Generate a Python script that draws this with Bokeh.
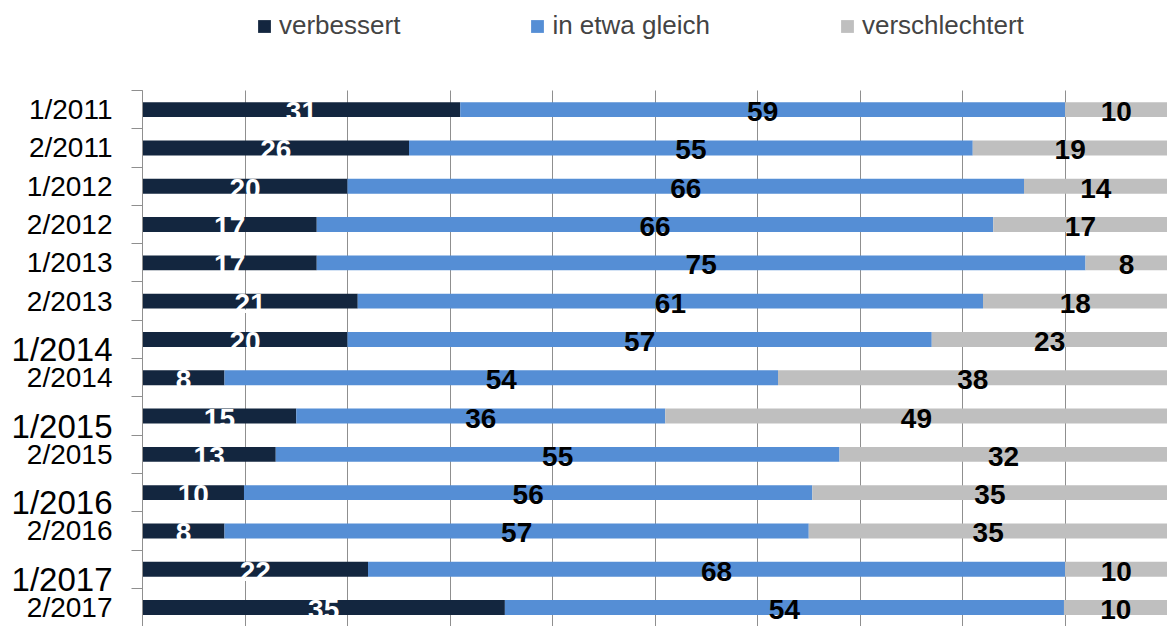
from bokeh.plotting import figure
from bokeh.models import Range1d, FixedTicker, Legend, LegendItem, ColumnDataSource
from bokeh.core.properties import value
from bokeh.embed import file_html
from bokeh.resources import INLINE

categories = ["1/2011", "2/2011", "1/2012", "2/2012", "1/2013", "2/2013", "1/2014",
              "2/2014", "1/2015", "2/2015", "1/2016", "2/2016", "1/2017", "2/2017"]
verbessert = [31, 26, 20, 17, 17, 21, 20, 8, 15, 13, 10, 8, 22, 35]
gleich = [59, 55, 66, 66, 75, 61, 57, 54, 36, 55, 56, 57, 68, 54]
verschlechtert = [10, 19, 14, 17, 8, 18, 23, 38, 49, 32, 35, 35, 10, 10]
series_names = ["verbessert", "in etwa gleich", "verschlechtert"]
big_labels = ["1/2014", "1/2015", "1/2016", "1/2017"]

COLORS = ["#13263f", "#558ed5", "#bfbfbf"]
TEXT_COLORS = ["white", "black", "black"]
GRID = "#8f8f8f"
FONT = "Liberation Sans"

n = len(categories)
ys = list(range(n))
series = [verbessert, gleich, verschlechtert]
# 100 % stacked: each row is scaled to its own total
totals = [sum(s[i] for s in series) for i in range(n)]

p = figure(width=1167, height=626, output_backend="svg", toolbar_location=None,
           x_range=Range1d(-13.854, 100.0), y_range=Range1d(13.495, -2.85),
           min_border_left=0, min_border_right=0, min_border_top=0, min_border_bottom=0)
p.outline_line_color = None
p.background_fill_color = "white"

# grid (below the bars)
p.xaxis.visible = False
p.ygrid.grid_line_color = None
p.xgrid.ticker = FixedTicker(ticks=list(range(0, 101, 10)))
p.xgrid.grid_line_color = GRID
p.xgrid.grid_line_width = 1
try:
    p.xgrid.cross_bounds = (-0.5, n)
except Exception:
    p.xgrid.grid_line_color = None
    gx = list(range(10, 101, 10))
    p.segment(x0=gx, x1=gx, y0=[-0.5] * len(gx), y1=[n] * len(gx), line_color=GRID, line_width=1)

renderers = []
left = [0.0] * n
for k, vals in enumerate(series):
    pct = [v / t * 100 for v, t in zip(vals, totals)]
    right = [l + v for l, v in zip(left, pct)]
    src = ColumnDataSource(dict(y=ys, left=left, right=right, v=[str(v) for v in vals],
                                xc=[(l + r) / 2 for l, r in zip(left, right)]))
    r = p.hbar(y="y", left="left", right="right", height=0.39, source=src,
               fill_color=COLORS[k], line_color=None)
    renderers.append(r)
    p.text(x="xc", y="y", text="v", source=src, text_align="center", text_baseline="middle",
           text_font=value(FONT), text_font_style="bold", text_font_size="28px",
           text_color=TEXT_COLORS[k], y_offset=2)
    left = right

# y axis at x = 0: labels at the category centres, ticks at the boundaries
ax = p.yaxis[0]
ax.fixed_location = 0
ax.bounds = (-0.5, n)
ax.ticker = FixedTicker(ticks=ys, minor_ticks=[i - 0.5 for i in range(n + 1)])
ax.major_label_overrides = {i: ("" if c in big_labels else c) for i, c in enumerate(categories)}
ax.major_tick_out = 0
ax.major_tick_in = 0
ax.minor_tick_out = 11
ax.minor_tick_in = 0
ax.minor_tick_line_color = GRID
ax.axis_line_color = GRID
ax.major_label_standoff = 19
ax.major_label_text_font = FONT
ax.major_label_text_font_size = "28px"
ax.major_label_text_color = "black"

# the four larger category labels of the original
big_src = ColumnDataSource(dict(y=[categories.index(c) for c in big_labels], t=big_labels))
p.text(x=0, y="y", text="t", source=big_src, x_offset=-30, y_offset=10,
       text_align="right", text_baseline="middle", text_font=value(FONT),
       text_font_size="33px", text_color="black")

legend = Legend(items=[LegendItem(label=nm, renderers=[r]) for nm, r in zip(series_names, renderers)],
                orientation="horizontal", location=(256, 585),
                glyph_width=16, glyph_height=16, label_standoff=7, spacing=129,
                label_text_font=FONT, label_text_font_size="26px",
                padding=0, margin=0, border_line_color=None, background_fill_alpha=0)
p.add_layout(legend, "center")

open("out.html", "w").write(file_html(p, INLINE))
